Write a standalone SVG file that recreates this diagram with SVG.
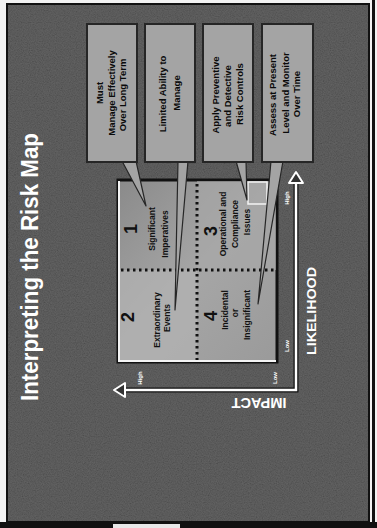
<svg xmlns="http://www.w3.org/2000/svg" width="377" height="528" viewBox="0 0 377 528">
<defs>
<filter id="noise" x="0" y="0" width="100%" height="100%">
<feTurbulence type="fractalNoise" baseFrequency="0.85" numOctaves="2" seed="7" result="t"/>
<feColorMatrix in="t" type="matrix" values="1 0 0 0 0  1 0 0 0 0  1 0 0 0 0  0 0 0 0 0.16"/>
</filter>
<linearGradient id="mx" x1="0" y1="0" x2="1" y2="1">
<stop offset="0" stop-color="#8a8a8a"/>
<stop offset="0.5" stop-color="#a6a6a6"/>
<stop offset="1" stop-color="#9a9a9a"/>
</linearGradient>
</defs>
<style>
.box{fill:#a4a4a4;stroke:#262626;stroke-width:2}
.ptr{fill:#a4a4a4;stroke:#262626;stroke-width:1.2;stroke-linejoin:round}
.bt{font-family:"Liberation Sans",Arial,sans-serif;font-weight:bold;font-size:9.5px;fill:#0a0a0a;text-anchor:middle}
.qt{font-family:"Liberation Sans",Arial,sans-serif;font-weight:bold;font-size:8.5px;fill:#111;text-anchor:middle}
.num{font-family:"Liberation Sans",Arial,sans-serif;font-weight:bold;font-size:18px;fill:#111;text-anchor:middle}
.ax{font-family:"Liberation Sans",Arial,sans-serif;font-weight:bold;fill:#fff;text-anchor:middle}
.tick{font-family:"Liberation Sans",Arial,sans-serif;font-weight:bold;font-size:6px;fill:#fff;text-anchor:middle}
.dot{stroke:#111;stroke-width:3;stroke-dasharray:2.5 3.5;stroke-linecap:butt;fill:none}
</style>
<rect width="377" height="528" fill="#f2f2f2"/>
<rect x="0" y="522" width="377" height="6" fill="#111"/>
<rect x="113" y="524" width="67" height="4" fill="#e8e8e8"/>
<rect x="372" y="0" width="3" height="528" fill="#111"/>
<g id="slide">
<rect x="7" y="4" width="362" height="518" fill="#484848" stroke="#111" stroke-width="2"/>
<rect x="8" y="5" width="360" height="516" filter="url(#noise)"/>
<text transform="translate(38,267) rotate(-90)" font-family="'Liberation Sans',Arial,sans-serif" font-size="24" font-weight="bold" fill="#fff" text-anchor="middle" textLength="268" lengthAdjust="spacingAndGlyphs">Interpreting the Risk Map</text>
</g>
<g id="matrix">
<rect x="118" y="180" width="159" height="182" fill="url(#mx)" stroke="#111" stroke-width="3"/>
<rect x="119" y="270" width="78" height="91" fill="#b4b4b4" opacity="0.7"/>
<rect x="197" y="181" width="79" height="89" fill="#a9a9a9" opacity="0.6"/>
<path d="M119,181 V361 H276" fill="none" stroke="#f4f4f4" stroke-width="2"/>
<rect x="248" y="182" width="19" height="22" fill="none" stroke="#f4f4f4" stroke-width="1.5"/>
<line class="dot" x1="197" y1="184" x2="197" y2="360"/>
<line class="dot" x1="121" y1="270" x2="276" y2="270"/>
</g>
<g id="q1">
<text class="num" transform="translate(137,229) rotate(-90)">1</text>
<text class="qt" transform="translate(155,229) rotate(-90)">Significant</text>
<text class="qt" transform="translate(168,234) rotate(-90)">Imperatives</text>
</g>
<g id="q2">
<text class="num" transform="translate(134,317) rotate(-90)">2</text>
<text class="qt" transform="translate(160,320) rotate(-90)">Extraordinary</text>
<text class="qt" transform="translate(170,318) rotate(-90)">Events</text>
</g>
<g id="q3">
<text class="num" transform="translate(217,231) rotate(-90)">3</text>
<text class="qt" transform="translate(226,224) rotate(-90)">Operational and</text>
<text class="qt" transform="translate(238,224) rotate(-90)">Compliance</text>
<text class="qt" transform="translate(250,222) rotate(-90)">Issues</text>
</g>
<g id="q4">
<text class="num" transform="translate(217,316) rotate(-90)">4</text>
<text class="qt" transform="translate(228,310) rotate(-90)">Incidental</text>
<text class="qt" transform="translate(238,313) rotate(-90)">or</text>
<text class="qt" transform="translate(250,315) rotate(-90)">Insignificant</text>
</g>
<g id="connectors">
<polygon class="ptr" points="122,161 136,161 146,206"/>
<polygon class="ptr" points="178,161 188,161 175,310"/>
<polygon class="ptr" points="236,161 246,161 247,200"/>
<polygon class="ptr" points="271,161 283,161 258,304"/>
</g>
<g id="callout1">
<rect class="box" x="87" y="24" width="50" height="138"/>
<text class="bt" transform="translate(103,93) rotate(-90)">Must</text>
<text class="bt" transform="translate(115,93) rotate(-90)">Manage Effectively</text>
<text class="bt" transform="translate(126,95) rotate(-90)">Over Long Term</text>
</g>
<g id="callout2">
<rect class="box" x="145" y="24" width="50" height="138"/>
<text class="bt" transform="translate(166,94) rotate(-90)">Limited Ability to</text>
<text class="bt" transform="translate(180,93) rotate(-90)">Manage</text>
</g>
<g id="callout3">
<rect class="box" x="203" y="24" width="50" height="138"/>
<text class="bt" transform="translate(219,95) rotate(-90)">Apply Preventive</text>
<text class="bt" transform="translate(231,96) rotate(-90)">and Detective</text>
<text class="bt" transform="translate(243,94) rotate(-90)">Risk Controls</text>
</g>
<g id="callout4">
<rect class="box" x="262" y="24" width="51" height="138"/>
<text class="bt" transform="translate(276,95) rotate(-90)">Assess at Present</text>
<text class="bt" transform="translate(289,93) rotate(-90)">Level and Monitor</text>
<text class="bt" transform="translate(300,94) rotate(-90)">Over Time</text>
</g>
<g id="axes">
<path d="M120,390 H296 V178" fill="none" stroke="#111" stroke-width="5"/>
<path d="M120,390 H296 V178" fill="none" stroke="#fff" stroke-width="2.5"/>
<polygon points="296,172 303,183 289,183" fill="#333" stroke="#fff" stroke-width="2" stroke-linejoin="round"/>
<polygon points="114,390 125,383 125,397" fill="#333" stroke="#fff" stroke-width="2" stroke-linejoin="round"/>
<text class="ax" font-size="13.5" transform="translate(316,311) rotate(-90)" textLength="88" lengthAdjust="spacingAndGlyphs">LIKELIHOOD</text>
<text class="ax" font-size="14" transform="translate(259,398) rotate(180)" textLength="55" lengthAdjust="spacingAndGlyphs">IMPACT</text>
<text class="tick" transform="translate(289,198) rotate(-90)">High</text>
<text class="tick" transform="translate(289,346) rotate(-90)">Low</text>
<text class="tick" transform="translate(142,378) rotate(-90)">High</text>
<text class="tick" transform="translate(277,378) rotate(-90)">Low</text>
</g>
</svg>
